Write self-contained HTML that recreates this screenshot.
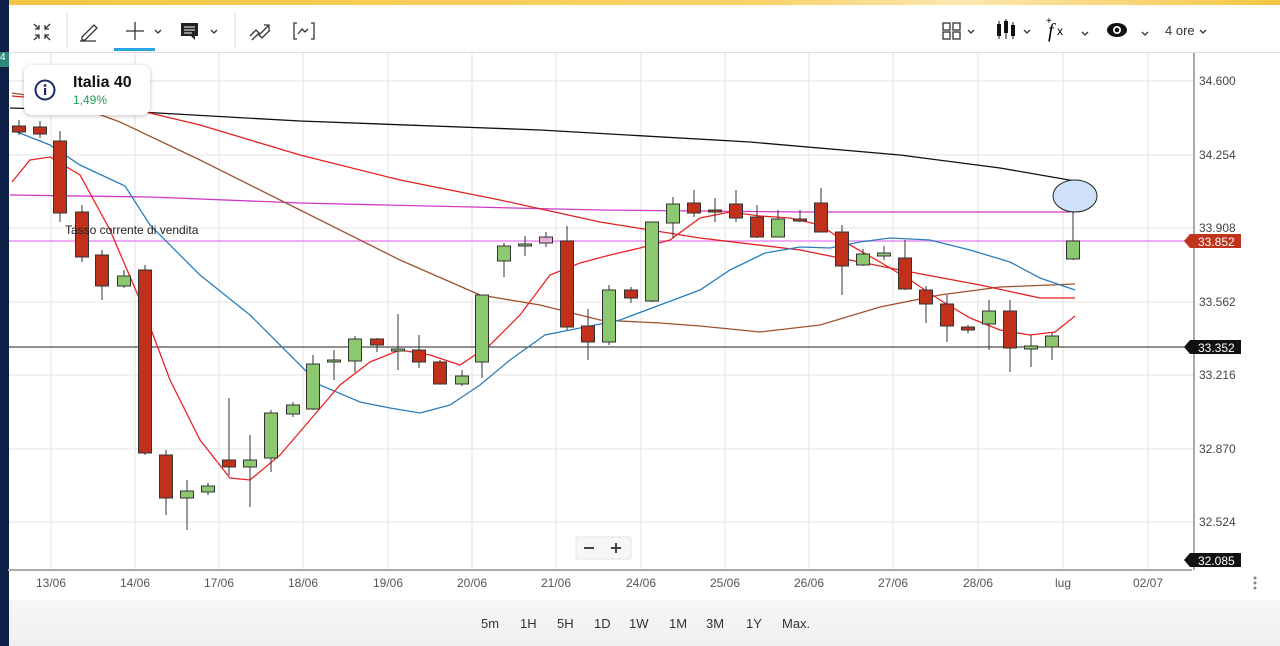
<!DOCTYPE html>
<html><head><meta charset="utf-8"><style>
body{margin:0;width:1280px;height:646px;overflow:hidden;background:#fff;font-family:"Liberation Sans",sans-serif;position:relative}
.t{position:absolute;font-size:13px;color:#333}
</style></head><body>
<div style="position:absolute;left:0;top:0;width:1280px;height:5px;background:linear-gradient(90deg,#f5c542,#f8d36a 60%,#fbe7b0 75%,#f5c542)"></div>
<div style="position:absolute;left:0;top:0;width:9px;height:646px;background:#0e1f45"></div>
<div style="position:absolute;left:0;top:52px;width:9px;height:15px;background:#2e8a78;color:#fff;font-size:10px">4</div>
<div style="position:absolute;left:9px;top:52px;width:1271px;height:1px;background:#ddd"></div>
<div style="position:absolute;left:9px;top:600px;width:1271px;height:46px;background:linear-gradient(#f6f6f6,#f0f0f0)"></div>
<svg width="1280" height="646" style="position:absolute;left:0;top:0" font-family="Liberation Sans, sans-serif">
<!-- toolbar icons -->
<g stroke="#333" fill="none" stroke-width="1.3">
<path d="M34 24l5 5M39 25v4h-4M50 24l-5 5M45 25v4h4M34 40l5-5M35 35h4v4M50 40l-5-5M49 35h-4v4"/>
<path d="M82 37l12-12 3 3-12 12h-3z M80 41h16"/>
<path d="M135 22v18M126 31h18"/>
<path d="M250 36l6-6 4 4 8-8M252 40l6-6 4 4 8-8M264 25h5v5"/>
<path d="M297 23h-3v16h3M311 23h3v16h-3M298 34l4-5 3 3 3-3"/>
<rect x="943" y="23" width="7" height="7"/><rect x="953" y="23" width="7" height="7"/><rect x="943" y="32" width="7" height="7"/><rect x="953" y="32" width="7" height="7"/>
<path d="M155 30l3 3 3-3M211 30l3 3 3-3M968 30l3 3 3-3M1024 30l3 3 3-3M1082 32l3 3 3-3M1142 32l3 3 3-3M1200 30l3 3 3-3"/>
</g>
<rect x="114" y="48" width="41" height="3" fill="#29a3e3"/>
<line x1="67" y1="12" x2="67" y2="48" stroke="#ddd"/><line x1="235" y1="12" x2="235" y2="48" stroke="#ddd"/>
<path d="M181 23h17v13h-3v4l-4-4h-10z" fill="#222"/><path d="M184 27h11M184 30h11M184 33h8" stroke="#fff"/>
<g fill="#111"><rect x="997" y="24" width="4" height="12"/><rect x="1004" y="21" width="4" height="12"/><rect x="1011" y="25" width="4" height="11"/>
<path d="M999 21v18M1006 19v20M1013 22v17" stroke="#111"/></g>
<text x="1048" y="37" font-size="20" font-style="italic" font-family="Liberation Serif,serif">f</text><text x="1057" y="35" font-size="12">x</text><text x="1046" y="24" font-size="10">+</text>
<ellipse cx="1117" cy="30" rx="10" ry="7" fill="#111"/><circle cx="1117" cy="30" r="4" fill="#fff"/><circle cx="1117" cy="30" r="2.3" fill="#111"/>
<text x="1165" y="35" font-size="13" fill="#333">4 ore</text>
<!-- grid -->
<g stroke="#e3e3e3">
<path d="M51 53V570M135 53V570M219 53V570M303 53V570M388 53V570M472 53V570M556 53V570M641 53V570M725 53V570M809 53V570M893 53V570M978 53V570M1063 53V570M1148 53V570"/>
<path d="M9 81H1194M9 155H1194M9 228H1194M9 302H1194M9 375H1194M9 449H1194M9 522H1194"/>
</g>
<line x1="1194" y1="53" x2="1194" y2="570" stroke="#555"/>
<line x1="8" y1="570" x2="1192" y2="570" stroke="#aaa" stroke-width="2"/>
<g font-size="12" fill="#444">
<text x="1199" y="85">34.600</text><text x="1199" y="159">34.254</text><text x="1199" y="232">33.908</text><text x="1199" y="306">33.562</text><text x="1199" y="379">33.216</text><text x="1199" y="453">32.870</text><text x="1199" y="526">32.524</text>
</g>
<g font-size="12" fill="#555" text-anchor="middle">
<text x="51" y="587">13/06</text><text x="135" y="587">14/06</text><text x="219" y="587">17/06</text><text x="303" y="587">18/06</text><text x="388" y="587">19/06</text><text x="472" y="587">20/06</text><text x="556" y="587">21/06</text><text x="641" y="587">24/06</text><text x="725" y="587">25/06</text><text x="809" y="587">26/06</text><text x="893" y="587">27/06</text><text x="978" y="587">28/06</text><text x="1063" y="587">lug</text><text x="1148" y="587">02/07</text>
</g>
<g fill="#888"><circle cx="1255" cy="578" r="1.5"/><circle cx="1255" cy="583" r="1.5"/><circle cx="1255" cy="588" r="1.5"/></g>
<!-- horizontal lines -->
<line x1="9" y1="241" x2="1194" y2="241" stroke="#e88ef0" stroke-width="1.5"/>
<line x1="9" y1="347" x2="1194" y2="347" stroke="#222" stroke-width="1"/>
<!-- MAs -->
<g fill="none" stroke-width="1.3">
<polyline stroke="#111" points="10,108 140,112 300,121 540,130 750,142 900,155 1000,168 1075,181"/>
<polyline stroke="#d03ac8" points="10,195 150,197 300,203 600,210 800,212 1070,212"/>
<polyline stroke="#a0522d" points="12,93 60,100 120,122 200,160 300,210 400,260 480,295 540,305 600,320 660,323 700,326 760,332 820,325 880,307 940,295 1000,287 1075,284"/>
<polyline stroke="#e02020" points="12,96 60,100 100,105 150,113 200,125 250,140 300,155 400,180 500,200 600,222 700,238 800,250 900,270 980,285 1040,298 1075,298"/>
<polyline stroke="#2a7fc0" points="12,130 50,145 80,165 125,186 150,225 200,275 250,315 290,355 320,385 360,402 390,408 420,413 450,405 480,385 510,360 545,335 580,328 620,320 660,305 700,290 730,270 765,253 800,247 830,248 860,242 890,238 930,240 970,250 1010,262 1040,278 1075,290"/>
<polyline stroke="#ee2222" points="12,182 30,160 50,157 80,175 110,230 140,300 170,380 200,440 230,478 250,480 280,455 310,420 340,385 370,362 400,350 430,355 460,365 490,345 520,315 550,275 580,263 610,255 640,248 670,240 700,218 730,212 760,216 790,218 820,225 850,245 880,262 910,280 940,300 970,318 1000,330 1030,335 1055,332 1075,316"/>
</g>
<g id="c" stroke="#333" stroke-width="1"></g>
<ellipse cx="1075" cy="196" rx="22" ry="16" fill="#cfe0fb" stroke="#222"/>
<text x="65" y="234" font-size="12" fill="#222">Tasso corrente di vendita</text>
<!-- price badges -->
<path d="M1184 241l6-7h51v14h-51z" fill="#c0341d"/><text x="1198" y="246" font-size="12" fill="#fff">33.852</text>
<path d="M1184 347l6-7h51v14h-51z" fill="#111"/><text x="1198" y="352" font-size="12" fill="#fff">33.352</text>
<path d="M1184 560l6-7h51v14h-51z" fill="#111"/><text x="1198" y="565" font-size="12" fill="#fff">32.085</text>
<!-- zoom -->
<rect x="576" y="537" width="55" height="22" rx="2" fill="#f7f7f7" stroke="#e4e4e4"/>
<path d="M584 548h10M611 548h10M616 543v10" stroke="#444" stroke-width="2"/>
<g font-size="13" fill="#333"><text x="481" y="628">5m</text><text x="520" y="628">1H</text><text x="557" y="628">5H</text><text x="594" y="628">1D</text><text x="629" y="628">1W</text><text x="669" y="628">1M</text><text x="706" y="628">3M</text><text x="746" y="628">1Y</text><text x="782" y="628">Max.</text></g>
</svg>
<div style="position:absolute;left:24px;top:65px;width:126px;height:50px;background:#fff;border-radius:8px;box-shadow:0 1px 5px rgba(0,0,0,.25)">
<svg width="30" height="30" style="position:absolute;left:8px;top:11px"><circle cx="13" cy="14" r="9.5" fill="none" stroke="#1a2a6c" stroke-width="2"/><circle cx="13" cy="9.5" r="1.4" fill="#1a2a6c"/><rect x="12" y="12" width="2.2" height="7" fill="#1a2a6c"/></svg>
<div style="position:absolute;left:49px;top:9px;font-weight:bold;font-size:16px;color:#111">Italia 40</div>
<div style="position:absolute;left:49px;top:28px;font-size:12px;color:#1f9a5c">1,49%</div>
</div>
<script>
var d=[[19,120,135,126,132,'r'],[40,121,138,127,134,'r'],[60,131,222,141,213,'r'],[82,205,262,212,257,'r'],[102,250,300,255,286,'r'],[124,270,288,276,286,'g'],[145,265,455,270,453,'r'],[166,450,515,455,498,'r'],[187,480,530,491,498,'g'],[208,483,495,486,492,'g'],[229,398,475,460,467,'r'],[250,435,507,460,467,'g'],[271,410,472,413,458,'g'],[293,402,417,405,414,'g'],[313,355,410,364,409,'g'],[334,350,380,360,362,'g'],[355,336,372,339,361,'g'],[377,338,352,339,345,'r'],[398,314,370,349,351,'g'],[419,335,368,350,362,'r'],[440,360,384,362,384,'r'],[462,370,386,376,384,'g'],[482,295,378,295,362,'g'],[504,243,277,246,261,'g'],[525,236,256,244,246,'g'],[546,232,247,237,243,'p'],[567,226,330,241,327,'r'],[588,309,360,326,342,'r'],[609,285,345,290,342,'g'],[631,287,303,290,298,'r'],[652,222,302,222,301,'g'],[673,197,238,204,223,'g'],[694,190,217,203,213,'r'],[715,198,222,210,212,'r'],[736,190,222,204,218,'r'],[757,205,238,217,237,'r'],[778,210,237,219,237,'g'],[800,210,222,219,221,'r'],[821,188,232,203,232,'r'],[842,225,295,232,266,'r'],[863,249,266,254,265,'g'],[884,246,260,253,256,'g'],[905,240,290,258,289,'r'],[926,286,323,290,304,'r'],[947,295,342,304,326,'r'],[968,325,333,327,330,'r'],[989,300,350,311,324,'g'],[1010,300,372,311,348,'r'],[1031,335,367,346,349,'g'],[1052,333,360,336,347,'g'],[1073,196,260,241,259,'g']];
var g=document.getElementById('c'),s='';
var col={r:'#c0301a',g:'#8cc870',p:'#e7b0d8'};
d.forEach(function(c){s+='<line x1="'+c[0]+'" y1="'+c[1]+'" x2="'+c[0]+'" y2="'+c[2]+'"/>';s+='<rect x="'+(c[0]-6.5)+'" y="'+c[3]+'" width="13" height="'+Math.max(2,c[4]-c[3])+'" fill="'+col[c[5]]+'"/>';});
g.innerHTML=s;
</script>
</body></html>
